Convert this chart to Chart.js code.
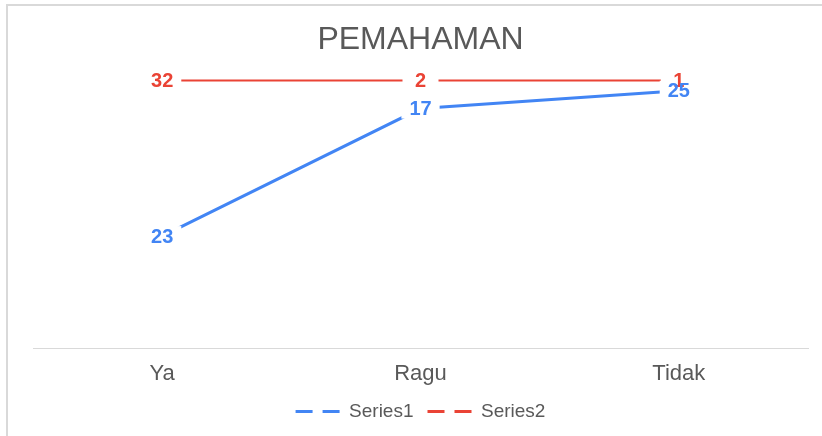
<!DOCTYPE html>
<html>
<head>
<meta charset="utf-8">
<script src="https://cdn.jsdelivr.net/npm/chart.js@4/dist/chart.umd.min.js"></script>
<style>
  html, body { margin: 0; padding: 0; background: #fff; overflow: hidden; }
  #frame { position: absolute; left: 6px; top: 4px; width: 830px; height: 440px;
           border-top: 2px solid #d9d9d9; border-left: 2px solid #d9d9d9; }
  #chart { position: absolute; left: 0; top: 0; }
</style>
</head>
<body>
<div id="frame"></div>
<canvas id="chart" width="822" height="436"></canvas>
<script>
  // data
  var categories = ["Ya", "Ragu", "Tidak"];
  var series1 = [23, 17, 25];
  var series2 = [32, 2, 1];
  var seriesNames = ["Series1", "Series2"];
  var seriesColors = ["#4285f4", "#ea4335"];

  // 100% stacked line: each point is its share of the category total
  var totals = categories.map(function (c, i) { return series1[i] + series2[i]; });
  var share1 = series1.map(function (v, i) { return v / totals[i]; });
  var share2 = series2.map(function (v, i) { return v / totals[i]; });
  var rawValues = [series1, series2];

  //--------------------------------
  //- value labels with white box  -
  //--------------------------------
  var valueLabels = {
    id: "valueLabels",
    afterDatasetsDraw: function (chart) {
      var ctx = chart.ctx;
      ctx.save();
      ctx.font = "bold 20px 'Liberation Sans', Arial, sans-serif";
      ctx.textAlign = "center";
      ctx.textBaseline = "middle";
      var order = [1, 0];
      var boxes = [];
      order.forEach(function (di) {
        var meta = chart.getDatasetMeta(di);
        meta.data.forEach(function (pt, i) {
          var txt = String(rawValues[di][i]);
          var w = Math.max(ctx.measureText(txt).width + 16, 36);
          boxes.push({ x: pt.x, y: pt.y, w: w, txt: txt, color: seriesColors[di] });
        });
      });
      ctx.fillStyle = "#ffffff";
      boxes.forEach(function (b) { ctx.fillRect(b.x - b.w / 2, b.y - 10, b.w, 20); });
      boxes.forEach(function (b) {
        ctx.fillStyle = b.color;
        ctx.fillText(b.txt, b.x, b.y + 1);
      });
      ctx.restore();
    }
  };

  var chartData = {
    labels: categories,
    datasets: [
      { label: seriesNames[0], data: share1, borderColor: seriesColors[0], backgroundColor: seriesColors[0],
        borderWidth: 3, pointRadius: 0, tension: 0, fill: false, clip: false },
      { label: seriesNames[1], data: share2, borderColor: seriesColors[1], backgroundColor: seriesColors[1],
        borderWidth: 2, pointRadius: 0, tension: 0, fill: false, clip: false }
    ]
  };

  var chartOptions = {
    responsive: false,
    animation: false,
    layout: { padding: { left: 33, right: 14, top: 0, bottom: 5 } },
    plugins: {
      title: {
        display: true,
        text: "PEMAHAMAN",
        color: "#595959",
        font: { family: "'Liberation Sans', Arial, sans-serif", size: 32, weight: "normal" },
        padding: { top: 21, bottom: 21 }
      },
      legend: {
        position: "bottom",
        labels: {
          usePointStyle: true,
          pointStyleWidth: 44,
          padding: 14,
          color: "#595959",
          font: { family: "'Liberation Sans', Arial, sans-serif", size: 19 },
          generateLabels: function (chart) {
            return chart.data.datasets.map(function (ds, i) {
              return {
                text: ds.label,
                fillStyle: ds.borderColor,
                strokeStyle: ds.borderColor,
                lineWidth: 3,
                lineDash: [17, 10],
                pointStyle: "line",
                fontColor: "#595959",
                hidden: false,
                datasetIndex: i
              };
            });
          }
        }
      },
      tooltip: { enabled: false }
    },
    scales: {
      x: {
        offset: true,
        grid: { display: false, drawTicks: false },
        border: { display: true, color: "#d9d9d9", width: 1 },
        ticks: {
          padding: 13,
          color: "#595959",
          font: { family: "'Liberation Sans', Arial, sans-serif", size: 22 }
        },
        afterFit: function (scale) { scale.height = 40; }
      },
      y: {
        display: false,
        stacked: true,
        min: 0,
        max: 1
      }
    }
  };

  var ctx = document.getElementById("chart").getContext("2d");
  new Chart(ctx, { type: "line", data: chartData, options: chartOptions, plugins: [valueLabels] });
</script>
</body>
</html>
